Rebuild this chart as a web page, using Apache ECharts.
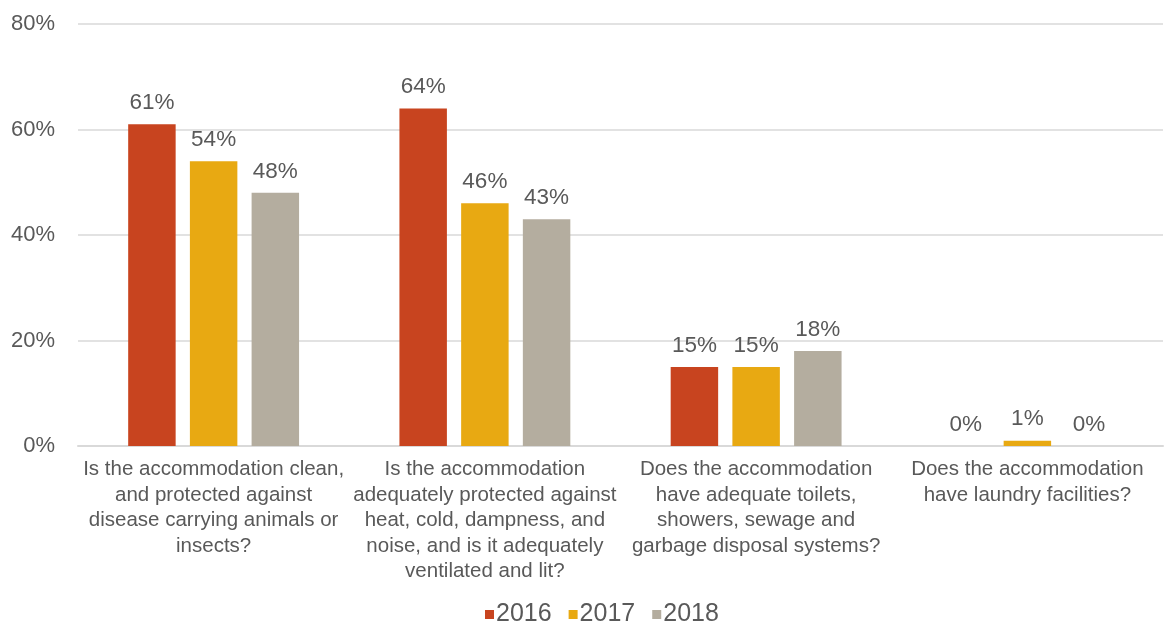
<!DOCTYPE html>
<html>
<head>
<meta charset="utf-8">
<script src="https://cdn.jsdelivr.net/npm/echarts@6/dist/echarts.min.js"></script>
<style>
  html, body { margin: 0; padding: 0; background: #fff; }
  #chart { width: 1165px; height: 624px; }
</style>
</head>
<body>
<div id="chart"></div>
<script>
// 分类（手动换行，跟原图一致）
const categories = [
  'Is the accommodation clean,\nand protected against\ndisease carrying animals or\ninsects?',
  'Is the accommodation\nadequately protected against\nheat, cold, dampness, and\nnoise, and is it adequately\nventilated and lit?',
  'Does the accommodation\nhave adequate toilets,\nshowers, sewage and\ngarbage disposal systems?',
  'Does the accommodation\nhave laundry facilities?',
];
const seriesNames = ['2016', '2017', '2018'];
const values2016 = [61, 64, 15, 0];
const values2017 = [54, 46, 15, 1];
const values2018 = [48, 43, 18, 0];
const yTicks = [0, 20, 40, 60, 80];

const colors = ['#C8441F', '#E8A912', '#B4AD9F'];
const textColor = '#595959';
const font = 'Liberation Sans, Arial, sans-serif';

const chart = echarts.init(document.getElementById('chart'));

function makeSeries(name, data) {
  return {
    name,
    type: 'bar',
    data,
    barGap: '30%',
    barCategoryGap: '37%',
    label: {
      show: true,
      position: 'top',
      distance: 10,
      formatter: (p) => p.value + '%',
      color: textColor,
      fontSize: 22.5,
      fontFamily: font,
    },
  };
}

chart.setOption({
  color: colors,
  animation: false,
  textStyle: { fontFamily: font },
  grid: {
    left: 78,
    right: 2,
    top: 24,
    bottom: 178,
    containLabel: false,
  },
  legend: {
    top: 597,
    left: 480,
    itemWidth: 9,
    itemHeight: 9,
    itemGap: 17,
    icon: 'rect',
    data: seriesNames,
    textStyle: { color: textColor, fontSize: 25, fontFamily: font, padding: [0, 0, 0, -3] },
  },
  xAxis: {
    type: 'category',
    data: categories,
    axisLine: { lineStyle: { color: '#D9D9D9', width: 2 } },
    axisTick: { show: false },
    axisLabel: {
      color: textColor,
      fontSize: 20.5,
      lineHeight: 25.5,
      margin: 11,
      interval: 0,
      fontFamily: font,
    },
  },
  yAxis: {
    type: 'value',
    min: yTicks[0],
    max: yTicks[yTicks.length - 1],
    interval: 20,
    axisLine: { show: false },
    axisTick: { show: false },
    splitLine: { lineStyle: { color: '#D9D9D9', width: 1.5 } },
    axisLabel: {
      color: textColor,
      fontSize: 22,
      margin: 23,
      fontFamily: font,
      formatter: (v) => v + '%',
    },
  },
  series: [
    makeSeries(seriesNames[0], values2016),
    makeSeries(seriesNames[1], values2017),
    makeSeries(seriesNames[2], values2018),
  ],
});
</script>
</body>
</html>
